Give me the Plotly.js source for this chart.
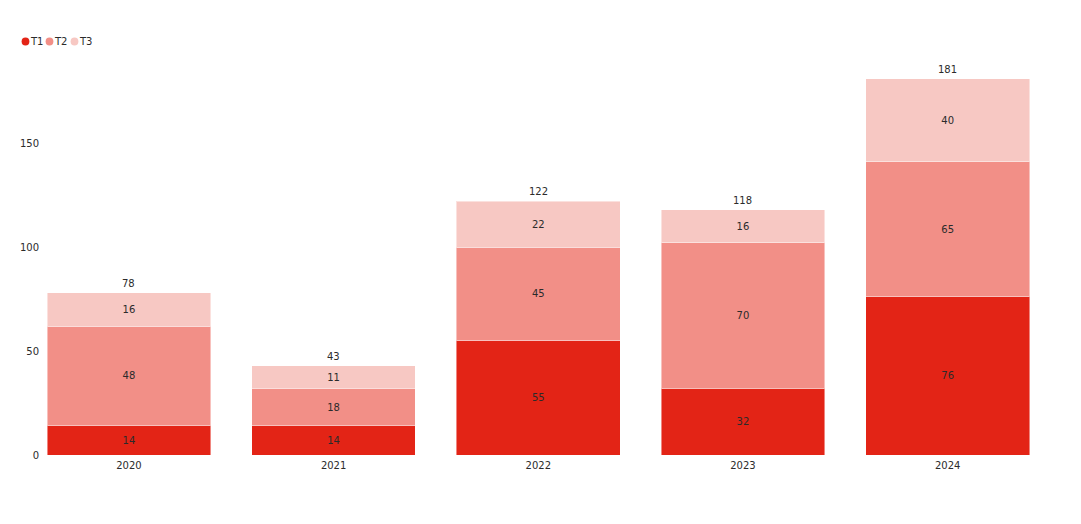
<!DOCTYPE html>
<html>
<head>
<meta charset="utf-8">
<script src="https://cdn.plot.ly/plotly-3.0.1.min.js"></script>
<style>html,body{margin:0;padding:0;background:#fff;}#chart{width:1081px;height:524px;}</style>
</head>
<body>
<div id="chart"></div>
<script>
const years = ['2020', '2021', '2022', '2023', '2024'];
const t1 = [14, 14, 55, 32, 76];
const t2 = [48, 18, 45, 70, 65];
const t3 = [16, 11, 22, 16, 40];
const totals = [78, 43, 122, 118, 181];
const seriesNames = ['T1', 'T2', 'T3'];
const seriesColors = ['#e32416', '#f28f87', '#f7c8c3'];

const FONT = 'DejaVu Sans, Verdana, sans-serif';
const TXT = '#2b2b2b';
const W = 1081, H = 524;
const M = {l: 45, r: 31, t: 59, b: 69};
const PW = W - M.l - M.r, PH = H - M.t - M.b;
const px = x => (x - M.l) / PW;
const py = y => 1 - (y - M.t) / PH;

const seriesData = [t1, t2, t3];
const traces = seriesData.map((vals, i) => ({
  type: 'bar',
  name: seriesNames[i],
  x: years,
  y: vals,
  text: vals.map(String),
  textposition: 'inside',
  insidetextanchor: 'middle',
  textangle: 0,
  textfont: {family: FONT, size: 10, color: TXT},
  marker: {color: seriesColors[i], line: {color: 'rgba(255,255,255,0.45)', width: 1}},
  hoverinfo: 'skip',
  showlegend: false
}));

// total labels above stacks (category index positions on the category axis)
const totalAnnotations = years.map((yr, i) => ({
  x: i, y: totals[i], xref: 'x', yref: 'y',
  text: String(totals[i]), showarrow: false,
  xanchor: 'center', yanchor: 'bottom', yshift: 2,
  font: {family: FONT, size: 10, color: TXT}
}));

// legend drawn as circles + labels
const legendX = [25.5, 49.5, 74.5];
const legendY = 41.5;
const shapes = seriesNames.map((n, i) => ({
  type: 'circle', xref: 'paper', yref: 'paper',
  x0: px(legendX[i] - 3.9), x1: px(legendX[i] + 3.9),
  y0: py(legendY + 3.9), y1: py(legendY - 3.9),
  fillcolor: seriesColors[i], line: {width: 0}
}));
const legendAnnotations = seriesNames.map((n, i) => ({
  xref: 'paper', yref: 'paper',
  x: px(legendX[i] + 2), y: py(legendY),
  xanchor: 'left', yanchor: 'middle',
  text: n, showarrow: false,
  font: {family: FONT, size: 10, color: TXT}
}));

const layout = {
  width: W, height: H,
  margin: M,
  barmode: 'stack',
  bargap: 0.2,
  paper_bgcolor: '#fff',
  plot_bgcolor: '#fff',
  font: {family: FONT, size: 10, color: TXT},
  showlegend: false,
  xaxis: {
    type: 'category',
    range: [-0.41, 4.5],
    showgrid: false, zeroline: false, showline: false,
    ticks: '',
    ticklabelstandoff: 3,
    tickfont: {family: FONT, size: 10, color: TXT}
  },
  yaxis: {
    range: [0, 190.4],
    tickvals: [0, 50, 100, 150],
    showgrid: false, zeroline: false, showline: false,
    ticks: '',
    ticklabelstandoff: 5,
    tickfont: {family: FONT, size: 10, color: TXT}
  },
  shapes: shapes,
  annotations: totalAnnotations.concat(legendAnnotations)
};

Plotly.newPlot('chart', traces, layout, {displayModeBar: false, staticPlot: true});
</script>
</body>
</html>
